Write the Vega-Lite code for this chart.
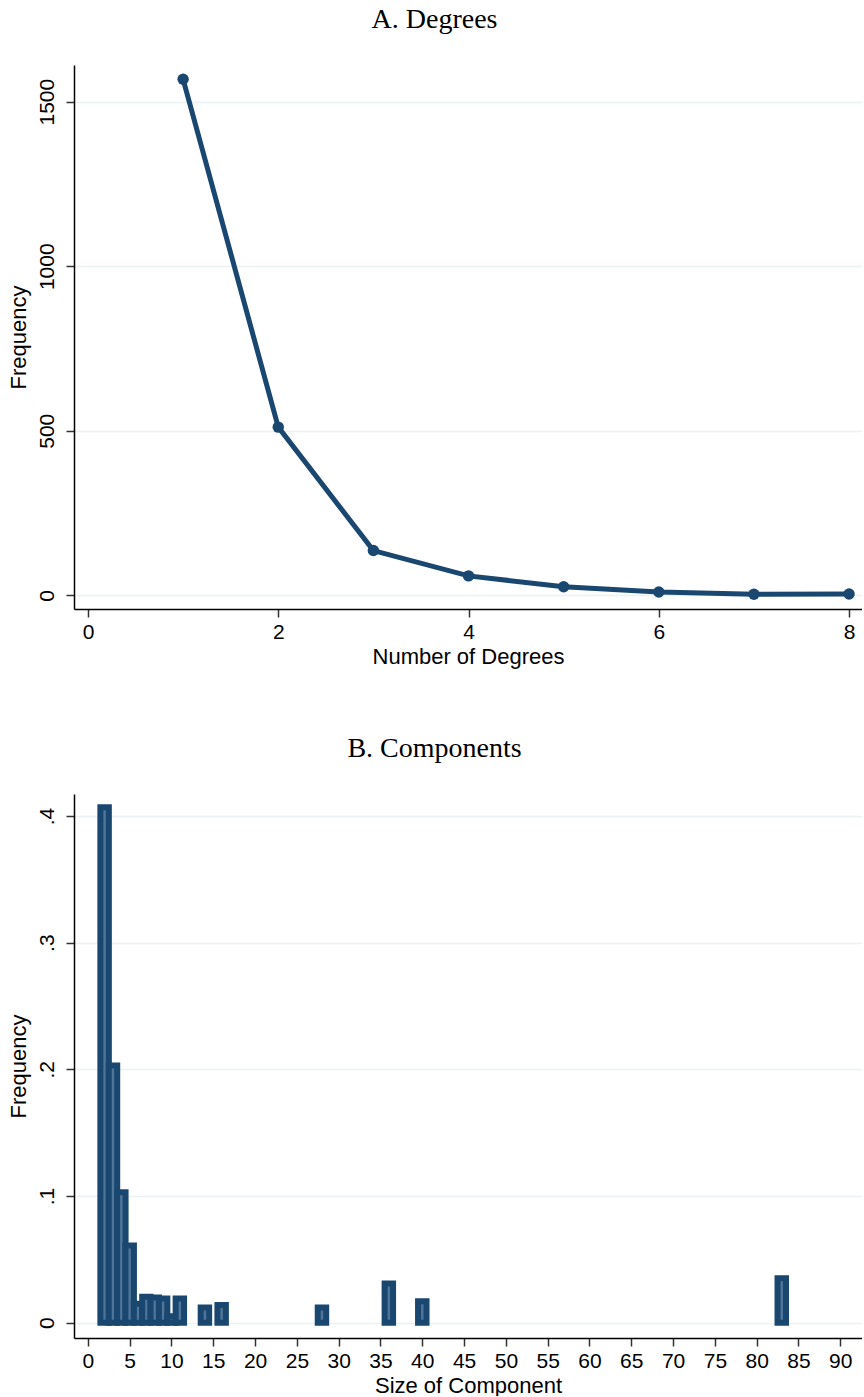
{
  "$schema": "https://vega.github.io/schema/vega-lite/v6.json",
  "padding": {"left": 7, "right": 0, "top": 6, "bottom": 0},
  "autosize": {"type": "pad"},
  "background": "white",
  "datasets": {
    "degrees": [
      {"degree": 1, "frequency": 1568},
      {"degree": 2, "frequency": 511},
      {"degree": 3, "frequency": 136},
      {"degree": 4, "frequency": 59},
      {"degree": 5, "frequency": 26},
      {"degree": 6, "frequency": 10},
      {"degree": 7, "frequency": 3},
      {"degree": 8, "frequency": 4}
    ],
    "components": [
      {"size": 2, "frequency": 0.407},
      {"size": 3, "frequency": 0.203},
      {"size": 4, "frequency": 0.103},
      {"size": 5, "frequency": 0.061},
      {"size": 6, "frequency": 0.015},
      {"size": 7, "frequency": 0.0205},
      {"size": 8, "frequency": 0.0198},
      {"size": 9, "frequency": 0.019},
      {"size": 10, "frequency": 0.005},
      {"size": 11, "frequency": 0.019},
      {"size": 14, "frequency": 0.012},
      {"size": 16, "frequency": 0.014},
      {"size": 28, "frequency": 0.012},
      {"size": 36, "frequency": 0.031},
      {"size": 40, "frequency": 0.017},
      {"size": 83, "frequency": 0.035}
    ]
  },
  "config": {
    "view": {"stroke": null},
    "font": "Liberation Sans",
    "axis": {
      "labelFont": "Liberation Sans",
      "titleFont": "Liberation Sans",
      "labelFontSize": 21,
      "titleFontSize": 22,
      "labelColor": "#000000",
      "titleColor": "#000000",
      "titleFontWeight": "normal",
      "domainColor": "#000000",
      "domainWidth": 1.5,
      "tickColor": "#333333",
      "tickWidth": 1.5,
      "tickSize": 8,
      "gridColor": "#eaf2f3",
      "gridWidth": 1.5,
      "labelPadding": 4
    },
    "title": {
      "font": "Liberation Serif",
      "fontSize": 28,
      "fontWeight": "normal",
      "color": "#000000",
      "anchor": "middle",
      "frame": "bounds",
      "baseline": "alphabetic",
      "offset": 31
    },
    "concat": {"spacing": 68}
  },
  "vconcat": [
    {
      "title": "A. Degrees",
      "width": 788,
      "height": 544,
      "data": {"name": "degrees"},
      "layer": [
        {
          "mark": {"type": "line", "color": "#1a476f", "strokeWidth": 5},
          "encoding": {
            "x": {
              "field": "degree",
              "type": "quantitative",
              "scale": {"domain": [-0.147, 8.136], "nice": false, "zero": false},
              "axis": {"values": [0, 2, 4, 6, 8], "format": "d", "grid": false, "title": "Number of Degrees", "titlePadding": 4}
            },
            "y": {
              "field": "frequency",
              "type": "quantitative",
              "scale": {"domain": [-41.6, 1611.5], "nice": false, "zero": false},
              "axis": {"values": [0, 500, 1000, 1500], "format": "d", "grid": true, "labelAngle": -90, "labelPadding": 9, "title": "Frequency", "titlePadding": 6}
            }
          }
        },
        {
          "mark": {"type": "point", "filled": true, "color": "#1a476f", "opacity": 1, "size": 130},
          "encoding": {
            "x": {"field": "degree", "type": "quantitative"},
            "y": {"field": "frequency", "type": "quantitative"}
          }
        }
      ]
    },
    {
      "title": "B. Components",
      "width": 788,
      "height": 544,
      "data": {"name": "components"},
      "mark": {"type": "bar", "width": 8.467, "fill": "#4f7598", "stroke": "#1a476f", "strokeWidth": 6, "opacity": 1},
      "encoding": {
        "x": {
          "field": "size",
          "type": "quantitative",
          "scale": {"domain": [-1.063, 92.0], "nice": false, "zero": false},
          "axis": {"values": [0, 5, 10, 15, 20, 25, 30, 35, 40, 45, 50, 55, 60, 65, 70, 75, 80, 85, 90], "format": "d", "grid": false, "title": "Size of Component", "titlePadding": 4}
        },
        "y": {
          "field": "frequency",
          "type": "quantitative",
          "scale": {"domain": [-0.0121, 0.4174], "nice": false, "zero": false},
          "axis": {
            "values": [0, 0.1, 0.2, 0.3, 0.4],
            "grid": true,
            "labelAngle": -90,
            "labelPadding": 9,
            "labelExpr": "datum.value == 0 ? '0' : replace(format(datum.value, '.1f'), '0.', '.')",
            "title": "Frequency",
            "titlePadding": 6
          }
        },
        "y2": {"datum": 0}
      }
    }
  ]
}
